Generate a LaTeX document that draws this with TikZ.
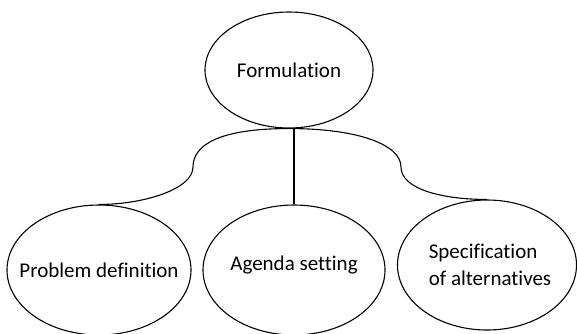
\documentclass[tikz,border=0pt]{standalone}
\usepackage{fontspec}
\setmainfont{Carlito}[Ligatures={NoCommon}]
\usetikzlibrary{shapes.geometric}

\begin{document}
\begin{tikzpicture}[x=1pt,y=-1pt,line width=1.1pt,
  stage/.style={draw,ellipse,inner sep=0pt},
  every label/.style={font=\fontsize{21}{27}\selectfont,align=left,inner sep=0pt}]
\useasboundingbox (0,0) rectangle (577,333);
\node[stage,minimum width=168,minimum height=116,label=center:Formulation] (formulation) at (289,70) {};
\node[stage,minimum width=184,minimum height=130,label=center:Problem definition] (problem) at (99,270) {};
\node[stage,minimum width=182,minimum height=130,label={[yshift=5]center:Agenda setting}] (agenda) at (294,270) {};
\node[stage,minimum width=179,minimum height=130,
  label={[xshift=3]center:Specification\\of alternatives}] (alternatives) at (487,265) {};
\coordinate (lbend) at (193,167);
\coordinate (rbend) at (401,167);
\draw (formulation.south) .. controls +(-70,0) and +(0,-22) .. (lbend)
  .. controls +(0,22) and +(45,0) .. (problem.north);
\draw (formulation.south) .. controls +(70,0) and +(0,-22) .. (rbend)
  .. controls +(0,22) and +(-45,0) .. (alternatives.north);
\draw (formulation.south -| agenda.north) -- (agenda.north);
\end{tikzpicture}
\end{document}
